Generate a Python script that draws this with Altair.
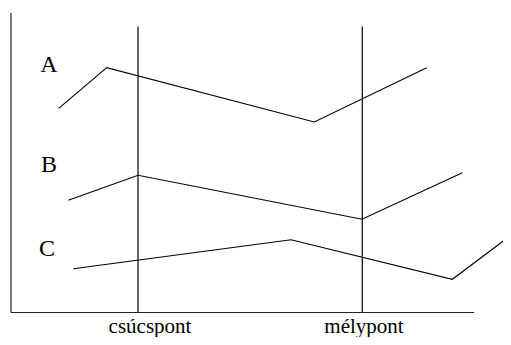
import altair as alt
import pandas as pd

# Diagram values (in image units)
series_names = ["A", "B", "C"]
a_x = [58.7, 106.7, 314.3, 426.7]
a_y = [108.3, 67.7, 122.0, 67.7]
b_x = [68.3, 138.0, 362.0, 462.3]
b_y = [200.3, 175.3, 219.3, 172.7]
c_x = [73.3, 291.0, 452.3, 511.0]
c_y = [268.7, 239.7, 279.3, 235.3]

label_x = [49.0, 49.0, 47.0]
label_y = [72.0, 172.0, 256.0]

marker_names = ["csúcspont", "mélypont"]
marker_x = [150.0, 364.0]
rule_x = [138.0, 362.3]
marker_top = [26.5, 26.5]
marker_label_y = [332.5, 332.5]

axis_left_x = 11.0
axis_top_y = 13.0
axis_bottom_y = 312.5
axis_right_x = 474.0

rows = []
for name, xs_, ys_ in [("A", a_x, a_y), ("B", b_x, b_y), ("C", c_x, c_y)]:
    for i, (x, y) in enumerate(zip(xs_, ys_)):
        rows.append({"series": name, "order": i, "x": x, "y": y})
lines_df = pd.DataFrame(rows)

labels_df = pd.DataFrame({"name": series_names, "x": label_x, "y": label_y})
rules_df = pd.DataFrame({"x": rule_x, "top": marker_top, "bottom": [axis_bottom_y] * 2})
mtext_df = pd.DataFrame({"name": marker_names, "x": marker_x, "ly": marker_label_y})
axes_df = pd.DataFrame({
    "x": [axis_left_x, axis_left_x],
    "x2": [axis_left_x, axis_right_x],
    "y": [axis_top_y, axis_bottom_y],
    "y2": [axis_bottom_y, axis_bottom_y],
})

X0, X1 = 8, 503
Y0, Y1 = 8, 337
xs = alt.Scale(domain=[X0, X1], nice=False, zero=False)
# y increases downward
ys = alt.Scale(domain=[Y1, Y0], nice=False, zero=False)

X = lambda f: alt.X(f, type="quantitative", scale=xs, axis=None)
Y = lambda f: alt.Y(f, type="quantitative", scale=ys, axis=None)

SERIF = "Liberation Serif"

axes = alt.Chart(axes_df).mark_rule(color="#222", strokeWidth=1.2).encode(
    x=X("x"), x2="x2", y=Y("y"), y2="y2")

verticals = alt.Chart(rules_df).mark_rule(color="black", strokeWidth=1.2).encode(
    x=X("x"), y=Y("top"), y2="bottom")

lines = alt.Chart(lines_df).mark_line(color="black", strokeWidth=1.1, clip=False).encode(
    x=X("x"), y=Y("y"), detail="series:N", order="order:Q")

letters = alt.Chart(labels_df).mark_text(
    font=SERIF, fontSize=24, color="black", align="center", baseline="alphabetic"
).encode(x=X("x"), y=Y("y"), text="name:N")

marker_text = alt.Chart(mtext_df).mark_text(
    font=SERIF, fontSize=21, color="black", align="center", baseline="alphabetic"
).encode(x=X("x"), y=Y("ly"), text="name:N")

chart = alt.layer(axes, verticals, lines, letters, marker_text).properties(
    width=X1 - X0, height=Y1 - Y0, padding=0,
    autosize=alt.AutoSizeParams(type="none"),
).configure_view(stroke=None)

chart.save("out.html", embed_options={"renderer": "svg", "actions": False})
